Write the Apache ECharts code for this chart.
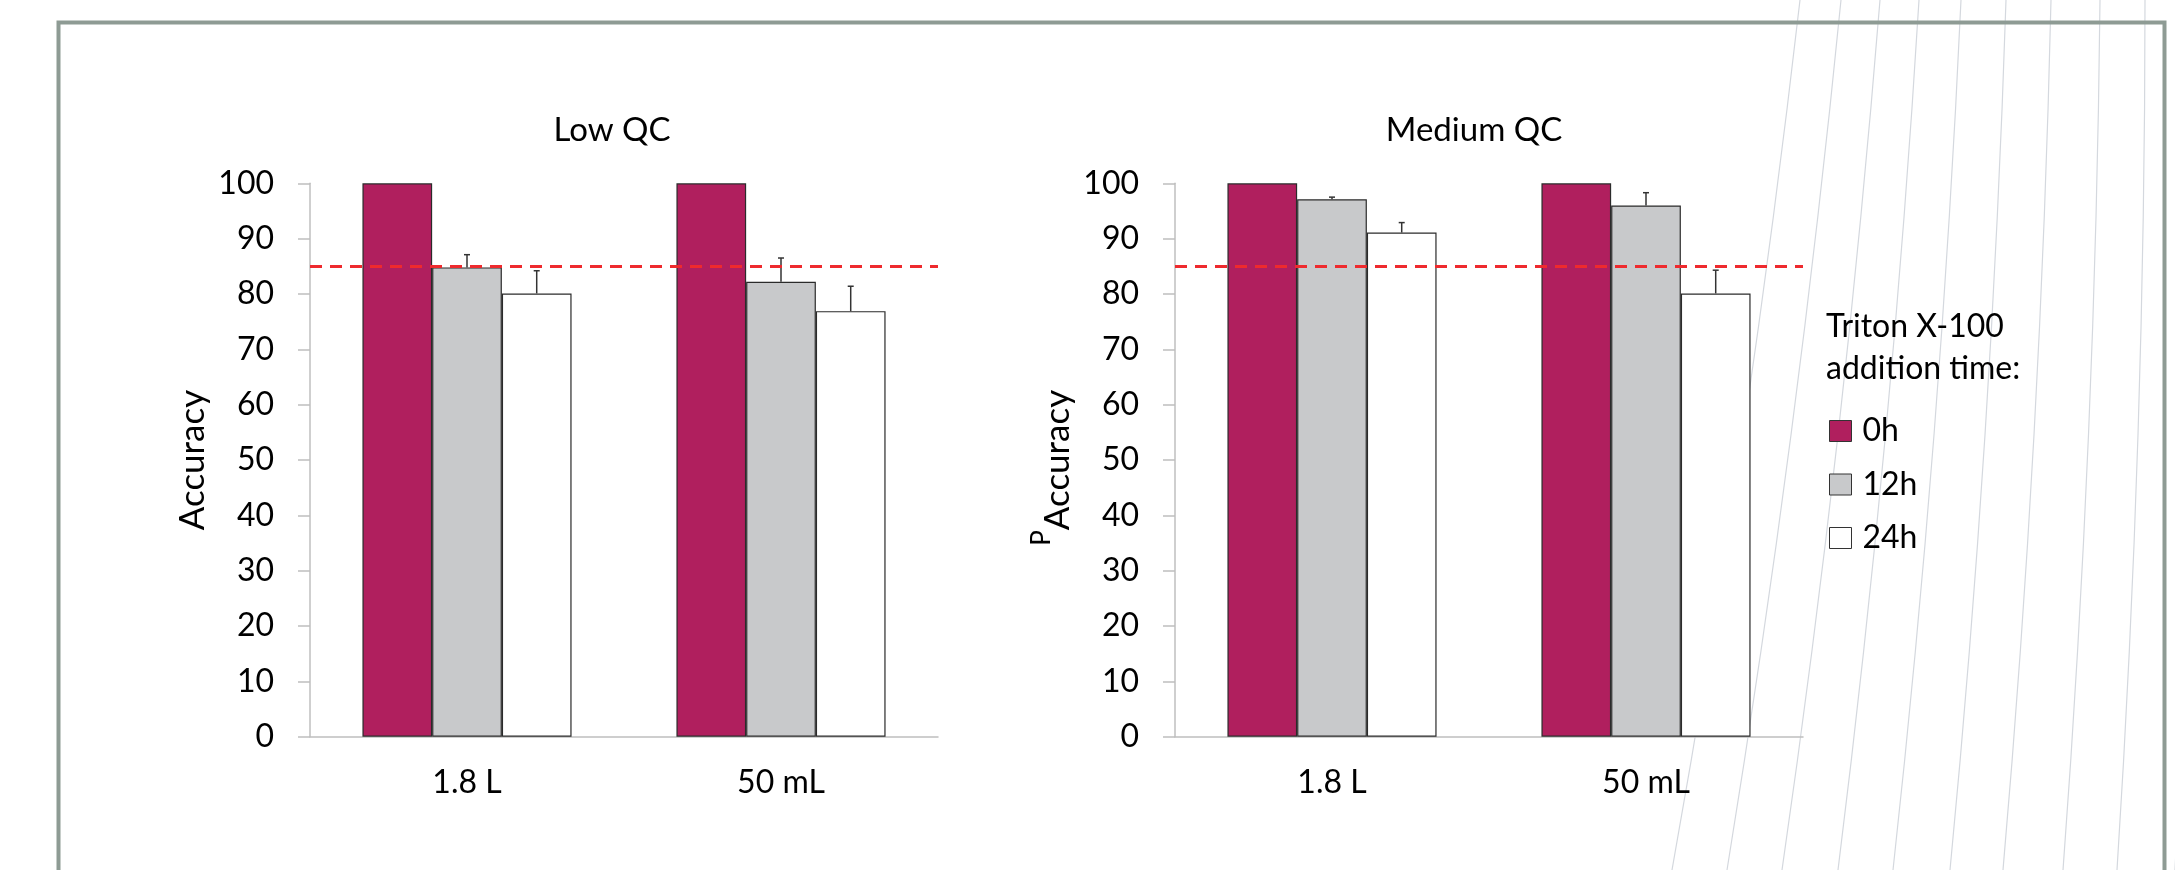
<!DOCTYPE html>
<html>
<head>
<meta charset="utf-8">
<script src="https://cdn.jsdelivr.net/npm/echarts@6/dist/echarts.min.js"></script>
<style>
html,body{margin:0;padding:0;background:#fff;}
#chart{width:2175px;height:870px;}
</style>
</head>
<body>
<div id="chart"></div>
<script>
// ---- data ----
const categories = ['1.8 L', '50 mL'];
const seriesNames = ['0h', '12h', '24h'];
const panelTitles = ['Low QC', 'Medium QC'];
const legendTitle = 'Triton X-100\naddition time:';
const yAxisName = 'Accuracy';

const lowQC_0h = [100, 100];
const lowQC_12h = [84.8, 82.2];
const lowQC_24h = [80.1, 76.9];
const lowQC_err12 = [2.3, 4.3];
const lowQC_err24 = [4.1, 4.5];

const medQC_0h = [100, 100];
const medQC_12h = [97.1, 96.0];
const medQC_24h = [91.1, 80.1];
const medQC_err12 = [0.4, 2.3];
const medQC_err24 = [1.8, 4.2];

const acceptanceLimit = 85;
const yMin = 0, yMax = 100, yInterval = 10;

// ---- style ----
const FONT = 'Lato';
const colors = ['#b01f5e', '#c8c9cb', '#ffffff'];
const BAR_FRAC = 0.222;

const chart = echarts.init(document.getElementById('chart'), null, {renderer: 'canvas'});

function errSeries(gridIdx, values, errs, offsetIdx) {
  return {
    type: 'custom',
    xAxisIndex: gridIdx, yAxisIndex: gridIdx,
    z: 4,
    silent: true,
    data: values.map((v, i) => [i, v, errs[i]]),
    encode: {x: 0, y: 1},
    renderItem: function (params, api) {
      const ci = api.value(0), v = api.value(1), e = api.value(2);
      const band = api.size([1, 0])[0];
      const base = api.coord([ci, v]);
      const top = api.coord([ci, v + e]);
      const x = base[0] + band * BAR_FRAC * offsetIdx;
      const st = {stroke: '#333', lineWidth: 1.5};
      return {
        type: 'group',
        children: [
          {type: 'line', shape: {x1: x, y1: base[1], x2: x, y2: top[1]}, style: st},
          {type: 'line', shape: {x1: x - 3, y1: top[1], x2: x + 3, y2: top[1]}, style: st}
        ]
      };
    }
  };
}

function barSeries(gridIdx, name, data, colorIdx, withLimit) {
  const s = {
    type: 'bar', name: name,
    xAxisIndex: gridIdx, yAxisIndex: gridIdx,
    data: data,
    barWidth: (BAR_FRAC * 100) + '%',
    barGap: '0%',
    itemStyle: {color: colors[colorIdx], borderColor: '#2b2b2b', borderWidth: 1.2},
    silent: true
  };
  if (withLimit) {
    s.z = 3;
    s.markLine = {
      silent: true, symbol: 'none',
      label: {show: false},
      lineStyle: {color: '#ee2a2e', width: 3.2, type: [12, 8]},
      data: [{yAxis: acceptanceLimit}]
    };
  }
  return s;
}

const grids = [
  {left: 310, right: 2175 - 938, top: 183.3, bottom: 870 - 736.7},
  {left: 1175, right: 2175 - 1803, top: 183.3, bottom: 870 - 736.7}
];

function xAxis(gi) {
  return {
    type: 'category', gridIndex: gi, data: categories,
    axisLine: {lineStyle: {color: '#bfbfbf', width: 1.5}},
    axisTick: {show: false},
    axisLabel: {fontFamily: FONT, fontSize: 32, color: '#000', margin: 30}
  };
}
function yAxis(gi) {
  return {
    type: 'value', gridIndex: gi, min: yMin, max: yMax, interval: yInterval,
    name: yAxisName, nameLocation: 'middle', nameGap: 100, nameRotate: 90,
    nameTextStyle: {fontFamily: FONT, fontSize: 35, color: '#000'},
    axisLine: {show: true, lineStyle: {color: '#bfbfbf', width: 1.5}},
    axisTick: {show: true, length: 12, lineStyle: {color: '#bfbfbf', width: 1.5}},
    splitLine: {show: false},
    axisLabel: {fontFamily: FONT, fontSize: 32, color: '#000', margin: 36}
  };
}

// decorative background strokes (top x at y=0, bottom x at y=870)
const decoTop = [1800, 1841, 1880, 1919, 1961, 2006, 2051, 2100, 2145, 2190];
const decoBottom = [1672, 1727, 1782, 1838, 1893, 1950, 2003, 2063, 2117, 2175];
const decoLines = decoTop.map((xt, i) => ({
  type: 'bezierCurve', silent: true, z: 0,
  shape: {x1: xt, y1: 0, x2: decoBottom[i], y2: 870, cpx1: (xt + decoBottom[i]) / 2 + 14, cpy1: 435},
  style: {stroke: '#d4d8de', lineWidth: 1.2, fill: null}
}));

const option = {
  backgroundColor: '#ffffff',
  animation: false,
  grid: grids,
  xAxis: [xAxis(0), xAxis(1)],
  yAxis: [yAxis(0), yAxis(1)],
  legend: {
    data: seriesNames,
    orient: 'vertical',
    left: 1824, top: 410,
    itemWidth: 22, itemHeight: 21, itemGap: 21.5,
    icon: 'rect',
    selectedMode: false,
    itemStyle: {borderColor: '#333', borderWidth: 1},
    textStyle: {fontFamily: FONT, fontSize: 32, color: '#000', lineHeight: 22, padding: [0, 0, 0, 6]}
  },
  graphic: decoLines.concat([
    {type: 'rect', silent: true, z: 1,
      shape: {x: 58.5, y: 22.5, width: 2106, height: 1000},
      style: {fill: null, stroke: '#8e9b94', lineWidth: 4}},
    {type: 'text', silent: true, z: 5, x: 612, y: 130,
      style: {text: panelTitles[0], font: '33px ' + FONT, fill: '#000', align: 'center', verticalAlign: 'middle', textAlign: 'center', textVerticalAlign: 'middle'}},
    {type: 'text', silent: true, z: 5, x: 1474, y: 130,
      style: {text: panelTitles[1], font: '33px ' + FONT, fill: '#000', align: 'center', verticalAlign: 'middle', textAlign: 'center', textVerticalAlign: 'middle'}},
    {type: 'text', silent: true, z: 5, x: 1826, y: 306,
      style: {text: legendTitle, font: '32px ' + FONT, fill: '#000', lineHeight: 42, align: 'left', verticalAlign: 'top', textAlign: 'left', textVerticalAlign: 'top'}},
    {type: 'text', silent: true, z: 5, x: 1042, y: 538, rotation: Math.PI / 2,
      style: {text: 'P', font: '26px ' + FONT, fill: '#000', align: 'center', verticalAlign: 'middle', textAlign: 'center', textVerticalAlign: 'middle'}}
  ]),
  series: [
    barSeries(0, seriesNames[0], lowQC_0h, 0, false),
    barSeries(0, seriesNames[1], lowQC_12h, 1, false),
    barSeries(0, seriesNames[2], lowQC_24h, 2, true),
    errSeries(0, lowQC_12h, lowQC_err12, 0),
    errSeries(0, lowQC_24h, lowQC_err24, 1),
    barSeries(1, seriesNames[0], medQC_0h, 0, false),
    barSeries(1, seriesNames[1], medQC_12h, 1, false),
    barSeries(1, seriesNames[2], medQC_24h, 2, true),
    errSeries(1, medQC_12h, medQC_err12, 0),
    errSeries(1, medQC_24h, medQC_err24, 1)
  ]
};
chart.setOption(option);
</script>
</body>
</html>
